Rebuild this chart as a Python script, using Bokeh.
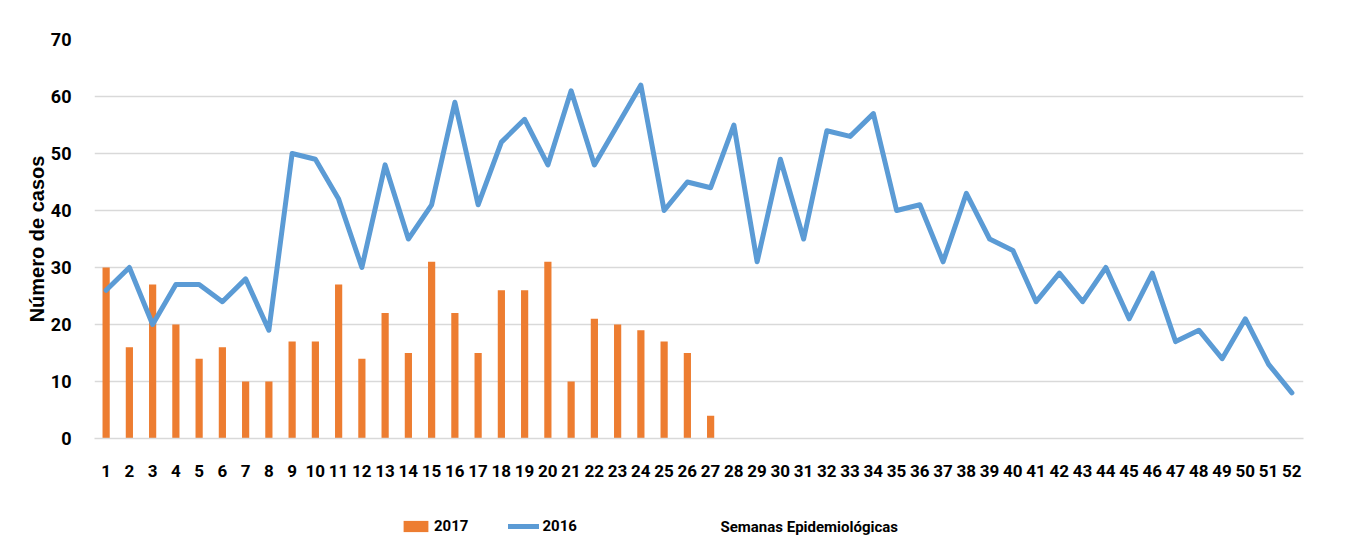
from bokeh.plotting import figure
from bokeh.layouts import column
from bokeh.models import (ColumnDataSource, FactorRange, FixedTicker, Legend,
                          LegendItem, Label, Range1d)
from bokeh.embed import file_html
from bokeh.resources import INLINE

# ---- data ----
weeks = [str(i) for i in range(1, 53)]
cases_2017 = [30, 16, 27, 20, 14, 16, 10, 10, 17, 17, 27, 14, 22, 15, 31, 22,
              15, 26, 26, 31, 10, 21, 20, 19, 17, 15, 4]
cases_2016 = [26, 30, 20, 27, 27, 24, 28, 19, 50, 49, 42, 30, 48, 35, 41, 59,
              41, 52, 56, 48, 61, 48, 55, 62, 40, 45, 44, 55, 31, 49, 35, 54,
              53, 57, 40, 41, 31, 43, 35, 33, 24, 29, 24, 30, 21, 29, 17, 19,
              14, 21, 13, 8]
y_ticks = [0, 10, 20, 30, 40, 50, 60, 70]
series_names = ["2017", "2016"]
y_title = "Número de casos"
x_title = "Semanas Epidemiológicas"

ORANGE = "#ED7D31"
BLUE = "#5B9BD5"
GRID = "#D9D9D9"
FONT = "Roboto"

BAR_STYLE = dict(fill_color=ORANGE, line_color=None)
LINE_STYLE = dict(line_color=BLUE, line_width=5, line_join="round",
                  line_cap="round")

src17 = ColumnDataSource(dict(week=weeks[:len(cases_2017)], value=cases_2017))
src16 = ColumnDataSource(dict(week=weeks, value=cases_2016))

W = 1340
p = figure(width=W, height=490, output_backend="svg", toolbar_location=None,
           x_range=FactorRange(factors=weeks, range_padding=0),
           y_range=Range1d(y_ticks[0], y_ticks[-1]),
           min_border_left=94, min_border_right=37,
           min_border_top=39, min_border_bottom=52)
p.outline_line_color = None
p.border_fill_color = "white"

p.vbar(x="week", top="value", width=0.31, source=src17, **BAR_STYLE)
p.line(x="week", y="value", source=src16, **LINE_STYLE)

# axes
p.yaxis.ticker = FixedTicker(ticks=y_ticks)
p.yaxis.axis_line_color = None
p.yaxis.major_tick_line_color = None
p.yaxis.minor_tick_line_color = None
p.yaxis.major_label_standoff = 17
p.yaxis.major_label_text_font = FONT
p.yaxis.major_label_text_font_style = "bold"
p.yaxis.major_label_text_font_size = "18px"
p.yaxis.major_label_text_color = "black"
p.yaxis.axis_label = y_title
p.yaxis.axis_label_text_font = "Liberation Sans"
p.yaxis.axis_label_text_font_style = "bold"
p.yaxis.axis_label_text_font_size = "20px"
p.yaxis.axis_label_text_color = "black"
p.yaxis.axis_label_standoff = 0

p.xaxis.axis_line_color = GRID
p.xaxis.axis_line_width = 1.5
p.xaxis.major_tick_line_color = None
p.xaxis.minor_tick_line_color = None
p.xaxis.major_label_standoff = 20
p.xaxis.major_label_text_font = FONT
p.xaxis.major_label_text_font_style = "bold"
p.xaxis.major_label_text_font_size = "17px"
p.xaxis.major_label_text_color = "black"

p.xgrid.grid_line_color = None
p.ygrid.grid_line_color = GRID
p.ygrid.grid_line_width = 1.5

# ---- legend row (separate strip, frame aligned with the main plot) ----
q = figure(width=W, height=64, output_backend="svg", toolbar_location=None,
           x_range=Range1d(0, 1), y_range=Range1d(0, 1),
           x_axis_type=None, y_axis_type=None,
           min_border_left=94, min_border_right=37,
           min_border_top=0, min_border_bottom=0)
q.outline_line_color = None
q.xgrid.visible = False
q.ygrid.visible = False
nan = float("nan")
# legend-only renderers (no visible marks)
leg_bar = q.vbar(x=[nan], top=[nan], width=0.3, **BAR_STYLE)
leg_line = q.line(x=[nan], y=[nan], **LINE_STYLE)

legend = Legend(items=[LegendItem(label=series_names[0], renderers=[leg_bar]),
                       LegendItem(label=series_names[1], renderers=[leg_line])],
                location=(306, 18), orientation="horizontal",
                glyph_width=31, glyph_height=14, label_height=20,
                label_standoff=3, spacing=40, padding=0, margin=0,
                border_line_color=None, background_fill_alpha=0,
                label_text_font=FONT, label_text_font_style="bold",
                label_text_font_size="15px", label_text_color="black")
q.add_layout(legend, "center")

q.add_layout(Label(x=626, y=28, x_units="screen", y_units="screen",
                   text=x_title, text_font=FONT, text_font_style="bold",
                   text_font_size="15px", text_color="black",
                   text_baseline="middle"))

open("out.html", "w").write(file_html(column(p, q), INLINE))
